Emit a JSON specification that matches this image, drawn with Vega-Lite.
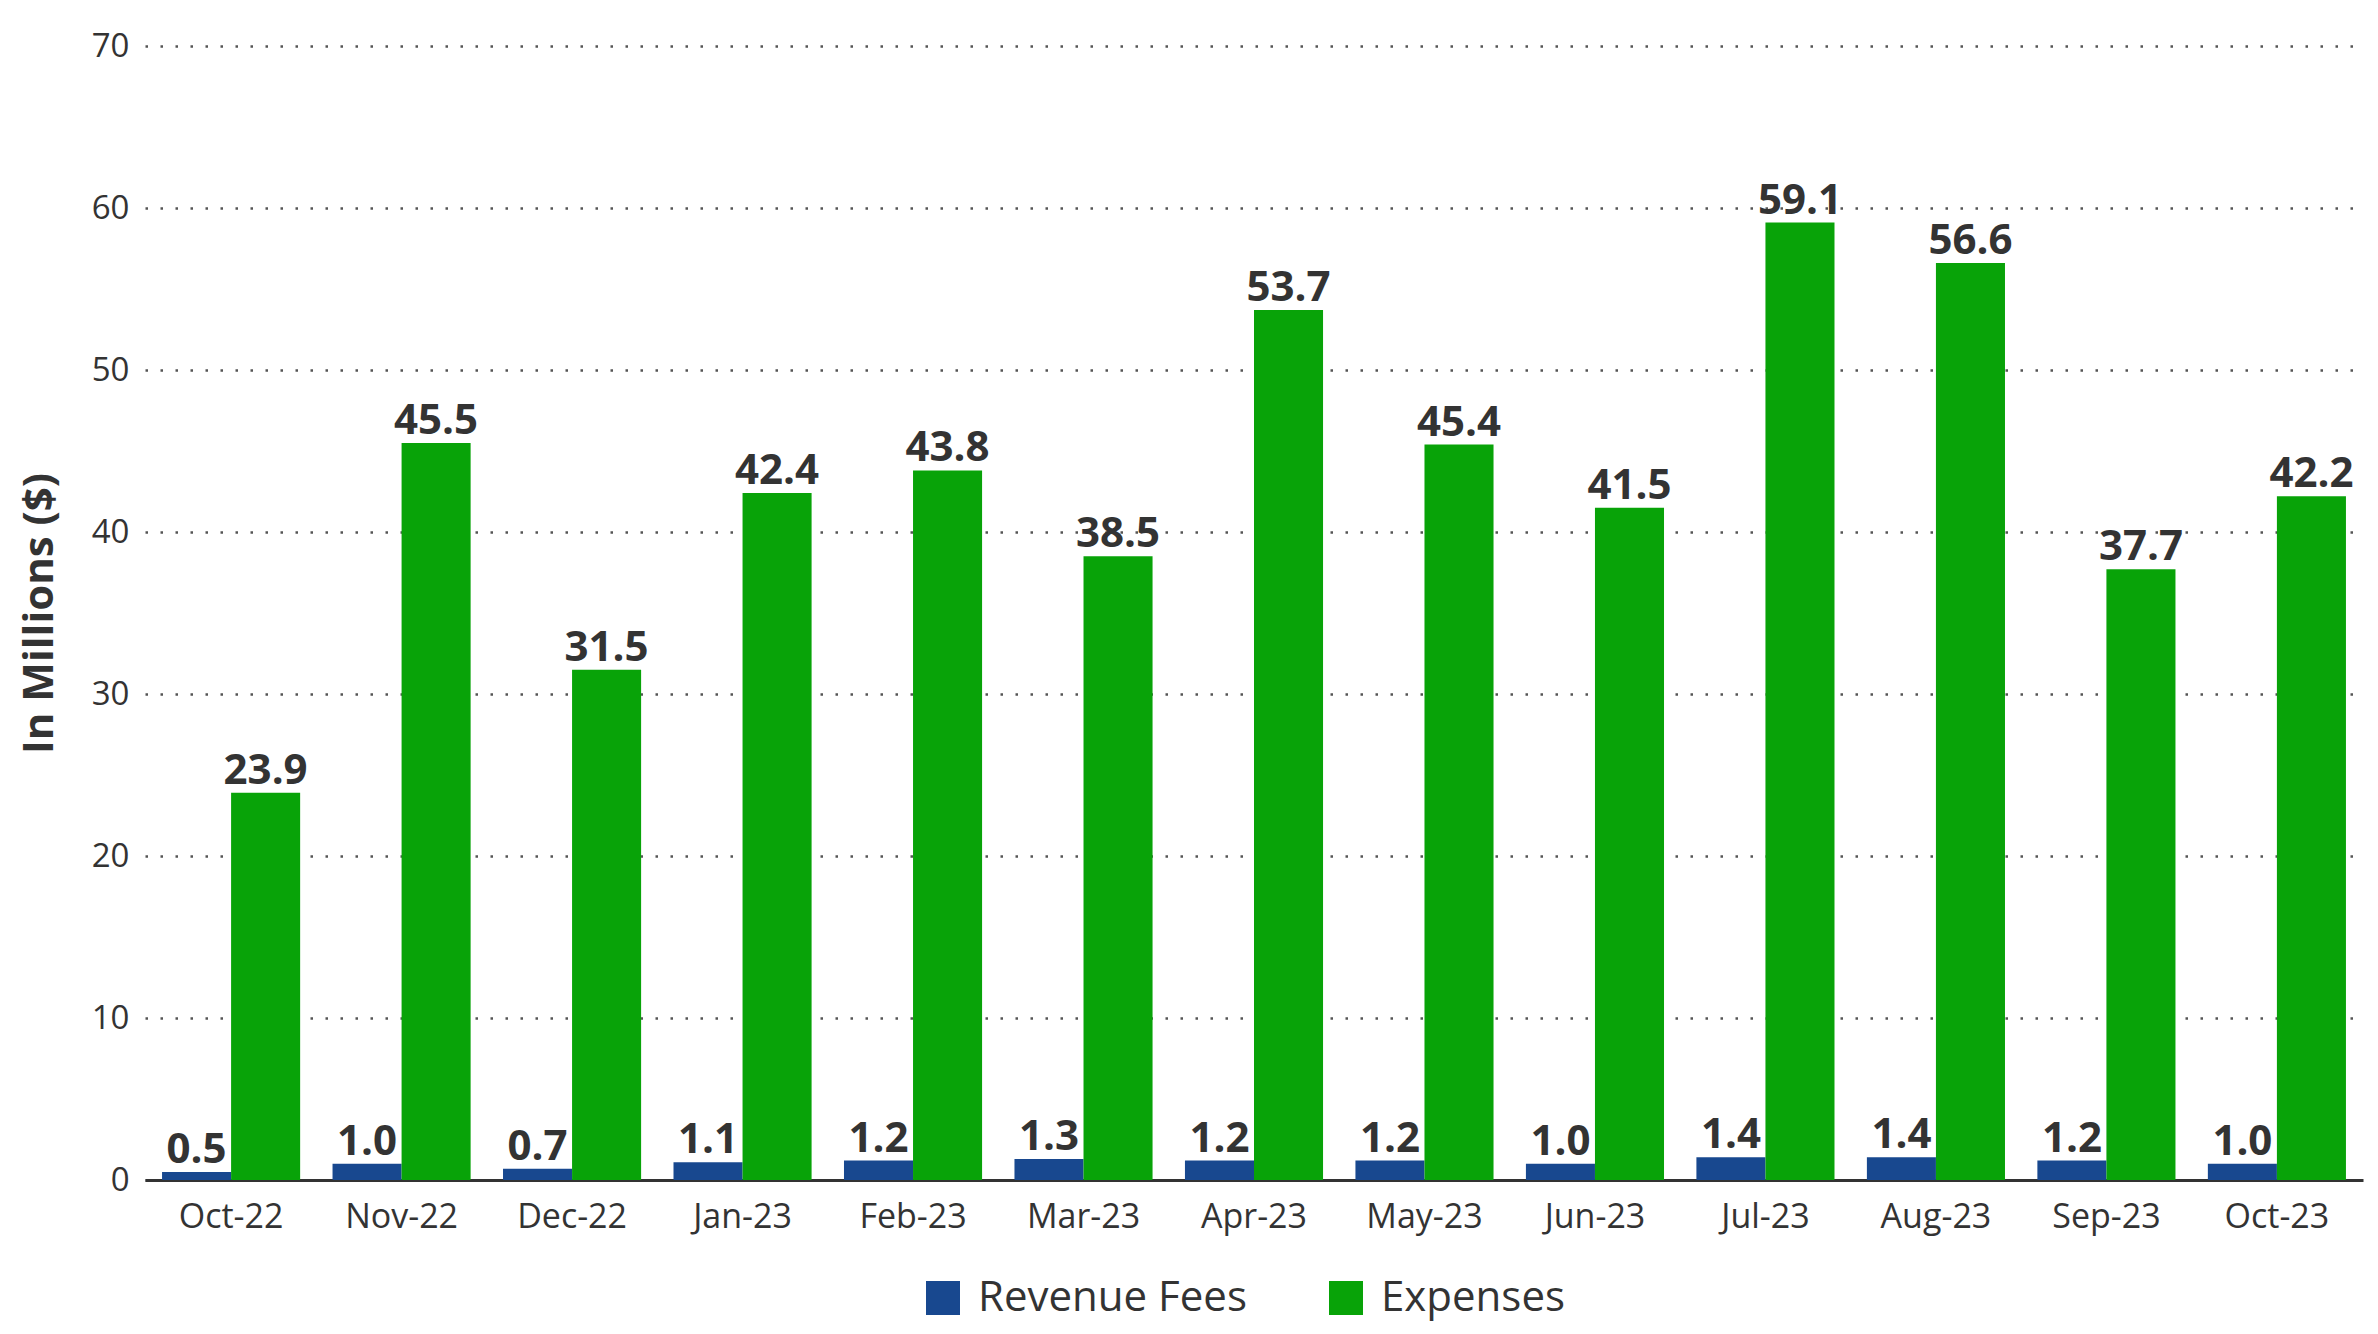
{
  "$schema": "https://vega.github.io/schema/vega-lite/v6.json",
  "width": 2218,
  "height": 1134,
  "autosize": {"type": "none"},
  "padding": {"left": 145, "top": 46, "right": 15, "bottom": 154},
  "background": "white",
  "config": {
    "view": {"stroke": null},
    "font": "Open Sans",
    "axis": {"labelFont": "Open Sans", "titleFont": "Open Sans", "labelColor": "#333333", "titleColor": "#333333"}
  },
  "data": {
    "values": [
      {"month": "Oct-22", "series": "Revenue Fees", "value": 0.5},
      {"month": "Nov-22", "series": "Revenue Fees", "value": 1.0},
      {"month": "Dec-22", "series": "Revenue Fees", "value": 0.7},
      {"month": "Jan-23", "series": "Revenue Fees", "value": 1.1},
      {"month": "Feb-23", "series": "Revenue Fees", "value": 1.2},
      {"month": "Mar-23", "series": "Revenue Fees", "value": 1.3},
      {"month": "Apr-23", "series": "Revenue Fees", "value": 1.2},
      {"month": "May-23", "series": "Revenue Fees", "value": 1.2},
      {"month": "Jun-23", "series": "Revenue Fees", "value": 1.0},
      {"month": "Jul-23", "series": "Revenue Fees", "value": 1.4},
      {"month": "Aug-23", "series": "Revenue Fees", "value": 1.4},
      {"month": "Sep-23", "series": "Revenue Fees", "value": 1.2},
      {"month": "Oct-23", "series": "Revenue Fees", "value": 1.0},
      {"month": "Oct-22", "series": "Expenses", "value": 23.9},
      {"month": "Nov-22", "series": "Expenses", "value": 45.5},
      {"month": "Dec-22", "series": "Expenses", "value": 31.5},
      {"month": "Jan-23", "series": "Expenses", "value": 42.4},
      {"month": "Feb-23", "series": "Expenses", "value": 43.8},
      {"month": "Mar-23", "series": "Expenses", "value": 38.5},
      {"month": "Apr-23", "series": "Expenses", "value": 53.7},
      {"month": "May-23", "series": "Expenses", "value": 45.4},
      {"month": "Jun-23", "series": "Expenses", "value": 41.5},
      {"month": "Jul-23", "series": "Expenses", "value": 59.1},
      {"month": "Aug-23", "series": "Expenses", "value": 56.6},
      {"month": "Sep-23", "series": "Expenses", "value": 37.7},
      {"month": "Oct-23", "series": "Expenses", "value": 42.2}
    ]
  },
  "encoding": {
    "x": {
      "field": "month", "type": "nominal", "sort": null,
      "scale": {"paddingInner": 0.19, "paddingOuter": 0.1},
      "axis": {
        "title": null, "labelAngle": 0, "labelFontSize": 34, "labelPadding": 20,
        "ticks": false, "domain": true, "domainColor": "#333333", "domainWidth": 3, "grid": false
      }
    },
    "xOffset": {"field": "series", "type": "nominal", "sort": ["Revenue Fees", "Expenses"], "scale": {"paddingInner": 0, "paddingOuter": 0}},
    "y": {
      "field": "value", "type": "quantitative",
      "scale": {"domain": [0, 70], "nice": false},
      "axis": {
        "title": "In Millions ($)", "titleFontSize": 42, "titleFontWeight": "bold", "titlePadding": 30,
        "values": [0, 10, 20, 30, 40, 50, 60, 70],
        "labelFontSize": 33, "labelPadding": 16, "ticks": false, "domain": false,
        "grid": true, "gridColor": "#555555", "gridDash": [2.5, 12.5], "gridWidth": 2.5
      }
    }
  },
  "layer": [
    {
      "mark": {"type": "bar"},
      "encoding": {
        "color": {
          "field": "series", "type": "nominal",
          "scale": {"domain": ["Revenue Fees", "Expenses"], "range": ["#18488f", "#08a308"]},
          "legend": {
            "title": null, "orient": "none", "direction": "horizontal",
            "legendX": 777, "legendY": 1231, "padding": 0,
            "symbolType": "square", "symbolSize": 1156, "symbolStrokeWidth": 0,
            "labelFontSize": 42, "labelFont": "Open Sans", "labelColor": "#333333", "labelLimit": 0,
            "labelOffset": 14, "columnPadding": 78
          }
        }
      }
    },
    {
      "mark": {"type": "text", "fontSize": 42, "fontWeight": "bold", "color": "#333333", "baseline": "alphabetic", "dy": -9, "font": "Open Sans"},
      "encoding": {
        "text": {"field": "value", "type": "quantitative", "format": ".1f"}
      }
    }
  ]
}
